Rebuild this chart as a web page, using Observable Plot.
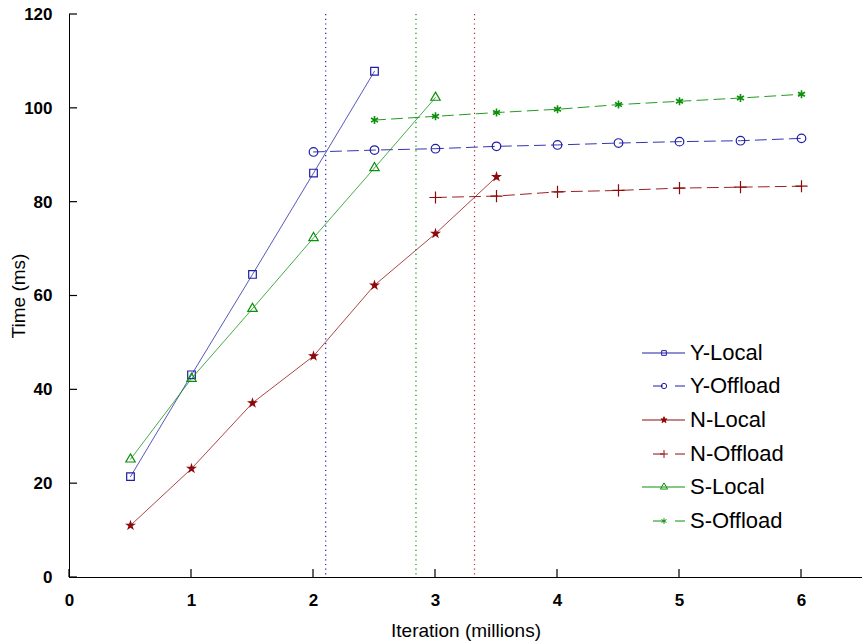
<!DOCTYPE html>
<html>
<head>
<meta charset="utf-8">
<script src="https://cdn.jsdelivr.net/npm/d3@7"></script>
<script src="https://cdn.jsdelivr.net/npm/@observablehq/plot@0.6"></script>
<style>
  html, body { margin: 0; padding: 0; background: #fff; }
  #wrap { position: relative; width: 864px; height: 641px; }
  #legend { position: absolute; left: 640px; top: 336px; font-family: "Liberation Sans", Arial, sans-serif; font-size: 22px; color: #000; }
  #legend .row { display: flex; align-items: center; height: 33.6px; }
  #legend svg { display: block; margin-right: 3px; }
  #chart svg g[aria-label="x-axis tick label"] text,
  #chart svg g[aria-label="y-axis tick label"] text { font-size: 17px; font-weight: bold; }
  #chart svg g[aria-label="x-axis label"] text,
  #chart svg g[aria-label="y-axis label"] text { font-size: 19px; font-family: "Liberation Sans Narrow", "Liberation Sans", Arial, sans-serif; }
</style>
</head>
<body>
<div id="wrap"><div id="chart"></div><div id="legend"></div></div>
<script>
// Data (x in millions of iterations, y in ms)
const yLocalX = [0.5, 1, 1.5, 2, 2.5];
const yLocalY = [21.5, 43.2, 64.6, 86.2, 107.9];
const yOffloadX = [2, 2.5, 3, 3.5, 4, 4.5, 5, 5.5, 6];
const yOffloadY = [90.7, 91.1, 91.4, 91.9, 92.2, 92.6, 92.9, 93.1, 93.6];
const nLocalX = [0.5, 1, 1.5, 2, 2.5, 3, 3.5];
const nLocalY = [11.1, 23.2, 37.2, 47.2, 62.3, 73.3, 85.4];
const nOffloadX = [3, 3.5, 4, 4.5, 5, 5.5, 6];
const nOffloadY = [81.0, 81.3, 82.2, 82.5, 83.0, 83.2, 83.4];
const sLocalX = [0.5, 1, 1.5, 2, 2.5, 3];
const sLocalY = [25.2, 42.4, 57.3, 72.4, 87.3, 102.3];
const sOffloadX = [2.5, 3, 3.5, 4, 4.5, 5, 5.5, 6];
const sOffloadY = [97.5, 98.3, 99.1, 99.8, 100.8, 101.5, 102.2, 103.0];
const thresholdX = [2.1, 2.84, 3.32];
const xTicks = [0, 1, 2, 3, 4, 5, 6];
const yTicks = [0, 20, 40, 60, 80, 100, 120];

const BLUE = "#1f1fa6", RED = "#8e0a0a", GREEN = "#0a900a";
const thresholdColors = [BLUE, GREEN, "#b03030"];

const seriesDefs = [
  {name: "Y-Local", xs: yLocalX, ys: yLocalY, color: BLUE, symbol: "square", dash: null, r: 4.3},
  {name: "Y-Offload", xs: yOffloadX, ys: yOffloadY, color: BLUE, symbol: "circle", dash: "11,6", r: 4.3},
  {name: "N-Local", xs: nLocalX, ys: nLocalY, color: RED, symbol: "star", dash: null, r: 2.3},
  {name: "N-Offload", xs: nOffloadX, ys: nOffloadY, color: RED, symbol: "plus", dash: "11,6", r: 4},
  {name: "S-Local", xs: sLocalX, ys: sLocalY, color: GREEN, symbol: "triangle", dash: null, r: 3.5},
  {name: "S-Offload", xs: sOffloadX, ys: sOffloadY, color: GREEN, symbol: "asterisk", dash: "11,6", r: 3.8}
];
const series = seriesDefs.map(s => ({...s, data: s.xs.map((x, i) => ({x, y: s.ys[i]}))}));

const W = 864, H = 641, mT = 14, mB = 64, mL = 69, mR = 2;
const xDomain = [0, 6.5], yDomain = [0, 120];
const TICK_PX = 8;
const xPerPx = (xDomain[1] - xDomain[0]) / (W - mL - mR);
const yPerPx = (yDomain[1] - yDomain[0]) / (H - mT - mB);

const marks = [];
thresholdX.forEach((t, i) => {
  marks.push(Plot.ruleX([t], {stroke: thresholdColors[i], strokeWidth: 1.2, strokeDasharray: "1.2,3.5"}));
});
for (const s of series) {
  marks.push(Plot.line(s.data, {x: "x", y: "y", stroke: s.color, strokeWidth: 1, strokeDasharray: s.dash ?? undefined, strokeOpacity: s.dash ? 0.9 : 0.75}));
  marks.push(Plot.dot(s.data, {x: "x", y: "y", symbol: () => s.symbol, r: s.r, stroke: s.color, fill: s.symbol === "star" ? s.color : "none", strokeWidth: s.symbol === "asterisk" ? 1.6 : 1.2}));
}
marks.push(Plot.ruleY([0], {stroke: "#000", strokeWidth: 1}));
marks.push(Plot.ruleX([0], {stroke: "#000", strokeWidth: 1}));
// inward tick marks as thin filled rects
marks.push(Plot.rect(xTicks, {x1: d => d - 0.6 * xPerPx, x2: d => d + 0.6 * xPerPx, y1: () => yDomain[0], y2: () => yDomain[0] + TICK_PX * yPerPx, fill: "#000"}));
marks.push(Plot.rect(yTicks, {y1: d => d - 0.6 * yPerPx, y2: d => d + 0.6 * yPerPx, x1: () => xDomain[0], x2: () => xDomain[0] + TICK_PX * xPerPx, fill: "#000"}));
// labels
marks.push(Plot.axisX({ticks: xTicks, tickSize: 0, tickPadding: 16, tickFormat: d => d, label: "Iteration (millions)", labelAnchor: "center", labelArrow: "none", labelOffset: 59}));
marks.push(Plot.axisY({ticks: yTicks, tickSize: 0, tickPadding: 17, tickFormat: d => d, label: "Time (ms)", labelAnchor: "center", labelArrow: "none", labelOffset: 58}));

const chart = Plot.plot({
  width: W,
  height: H,
  marginTop: mT,
  marginBottom: mB,
  marginLeft: mL,
  marginRight: mR,
  x: {domain: xDomain},
  y: {domain: yDomain},
  style: {fontFamily: "'Liberation Sans', Arial, sans-serif", fontSize: "17px", color: "#000", background: "#fff", overflow: "visible"},
  marks
});
document.getElementById("chart").append(chart);

// Legend overlay
const legend = document.getElementById("legend");
const symMap = {square: d3.symbolSquare, circle: d3.symbolCircle, star: d3.symbolStar, plus: d3.symbolPlus || d3.symbolCross, triangle: d3.symbolTriangle, asterisk: d3.symbolAsterisk};
for (const s of series) {
  const row = document.createElement("div");
  row.className = "row";
  const sw = d3.create("svg").attr("width", 47).attr("height", 20);
  if (s.dash) {
    sw.append("line").attr("x1", 13).attr("x2", 23).attr("y1", 10).attr("y2", 10).attr("stroke", s.color);
    sw.append("line").attr("x1", 35).attr("x2", 45).attr("y1", 10).attr("y2", 10).attr("stroke", s.color);
  } else {
    sw.append("line").attr("x1", 2).attr("x2", 45).attr("y1", 10).attr("y2", 10).attr("stroke", s.color);
  }
  const size = s.symbol === "star" ? 12 : 22;
  sw.append("path").attr("transform", "translate(24,10)").attr("d", d3.symbol(symMap[s.symbol], size)())
    .attr("stroke", s.color).attr("fill", s.symbol === "star" ? s.color : "none");
  row.append(sw.node());
  const label = document.createElement("span");
  label.textContent = s.name;
  row.append(label);
  legend.append(row);
}
</script>
</body>
</html>
